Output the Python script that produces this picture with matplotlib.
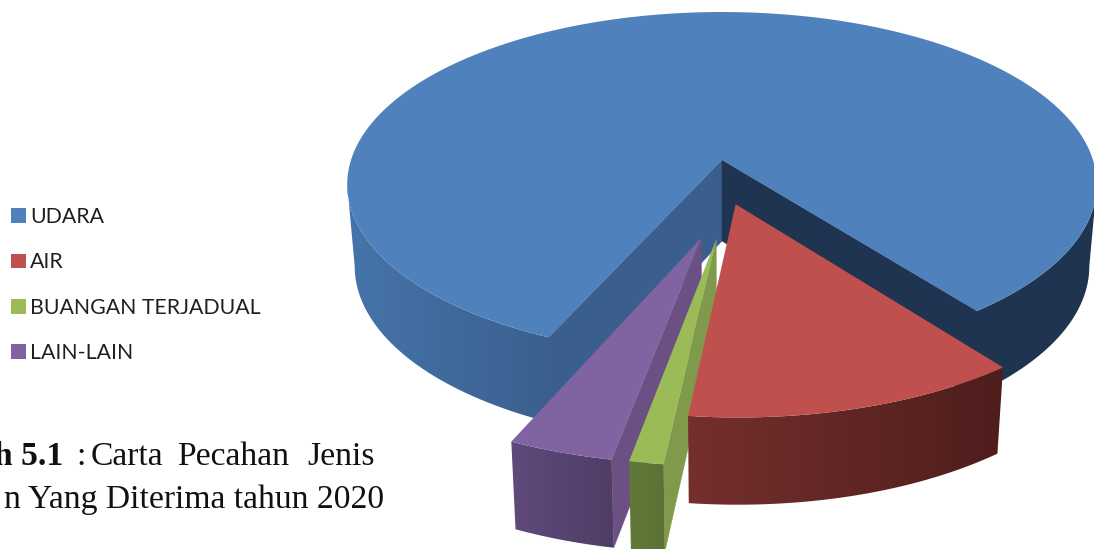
import numpy as np
import matplotlib
matplotlib.use("Agg")
import matplotlib.pyplot as plt
from matplotlib.colors import LinearSegmentedColormap
from matplotlib.patches import Patch, Polygon

# ---- data ----
CATEGORIES = ["UDARA", "AIR", "BUANGAN TERJADUAL", "LAIN-LAIN"]
VALUES = [82.9, 12.2, 1.2, 3.7]
START_ANGLE = -114.0      # first slice starts here and runs clockwise
EXPLODE_DIST = [0.0, 0.255, 0.44, 0.437]
EXPLODE_DIR = [0.0, -82.0, -91.9, -96.9]

# ---- style ----
TOP = ["#4f81bd", "#c0504d", "#9bbb59", "#8064a2"]
RIM = [("#4674aa", "#3a5f8e"), ("#752f2d", "#4e1e1c"), ("#62793a", "#5c7136"), ("#604a7c", "#4f3d66")]
CX, CY, A, B, K = 722.0, 160.0, 371.0, 169.0, 0.142
BOTTOM_SCALE, DEPTH, DEPTH_PERSP = 0.98, 81.0, 35.0
BLUE_WALL_L, BLUE_WALL_R, BLUE_RIM_R = "#3a5f8e", "#1f3450", "#1f3450"
SIDE_WALL = {2: "#7f9a4a", 3: "#6a5083"}

plt.rcParams["font.family"] = ["Lato", "DejaVu Sans"]
fig = plt.figure(figsize=(10.94, 5.49), dpi=100)
ax = fig.add_axes([0, 0, 1, 1])
ax.axis("off")


def top_xy(u, v):
    w = 1 + K * v
    return CX + A * u / w, CY - B * v / w


def bottom_xy(u, v):
    w = 1 + K * v
    x, y = top_xy(u, v)
    return CX + (x - CX) * BOTTOM_SCALE, y + DEPTH + (1 - w) * DEPTH_PERSP


def polar(t_deg, off, r=1.0):
    t = np.radians(t_deg)
    return off[0] + r * np.cos(t), off[1] + r * np.sin(t)


def rim(t1, t2, off, c1, c2, z, n=160):
    """Outer wall of a slice, shaded left to right with a smooth gradient."""
    ts = np.linspace(t1, t2, n)
    u, v = polar(ts, off)
    xt, yt = top_xy(u, v)
    xb, yb = bottom_xy(u, v)
    pts = np.vstack([np.column_stack([xt, yt]), np.column_stack([xb, yb])[::-1]])
    lo, hi = pts[:, 0].min(), pts[:, 0].max()
    cmap = LinearSegmentedColormap.from_list("rim", [c1, c2])
    im = ax.imshow(np.linspace(0, 1, 256).reshape(1, -1), cmap=cmap, vmin=0, vmax=1,
                   extent=(lo, hi, pts[:, 1].max(), pts[:, 1].min()), aspect="auto",
                   interpolation="bilinear", zorder=z)
    clip = Polygon(pts, closed=True, transform=ax.transData, fc="none", ec="none")
    ax.add_patch(clip)
    im.set_clip_path(clip)


def wall(t, off, color, z):
    e = polar(t, off)
    pts = [top_xy(*off), top_xy(*e), bottom_xy(*e), bottom_xy(*off)]
    ax.add_patch(Polygon(pts, closed=True, fc=color, ec=color, lw=0.3, zorder=z))


def top_face(t1, t2, off, color, z):
    ts = np.linspace(t1, t2, 240)
    u, v = polar(ts, off)
    x, y = top_xy(u, v)
    pts = [top_xy(*off)] + list(zip(x, y))
    ax.add_patch(Polygon(pts, closed=True, fc=color, ec="none", zorder=z))


# slice angles, clockwise
total = sum(VALUES)
edges = [START_ANGLE]
for val in VALUES:
    edges.append(edges[-1] - val / total * 360)
offs = [(d * np.cos(np.radians(a)), d * np.sin(np.radians(a))) for d, a in zip(EXPLODE_DIST, EXPLODE_DIR)]

# main slice: the outer wall is visible down to the silhouette angles
sil = np.degrees(np.arcsin(K))
t_start, t_end = edges[0], edges[1]
rim(-180 + sil, t_start + 0.5, offs[0], RIM[0][0], RIM[0][1], 1)
rim(t_end + 360 - 0.5, -sil, offs[0], BLUE_RIM_R, BLUE_RIM_R, 1)
wall(t_start, offs[0], BLUE_WALL_L, 2)
wall(t_end, offs[0], BLUE_WALL_R, 2)
top_face(t_start, t_end, offs[0], TOP[0], 3)

# exploded slices, far one first: LAIN-LAIN, BUANGAN, AIR
z = 4
for i in (3, 2, 1):
    t1, t2 = edges[i], edges[i + 1]
    if i in SIDE_WALL:
        wall(t1, offs[i], SIDE_WALL[i], z)
    rim(min(t1, t2), max(t1, t2), offs[i], RIM[i][0], RIM[i][1], z + 0.5)
    top_face(t1, t2, offs[i], TOP[i], z + 1)
    z += 2

ax.set_xlim(0, 1094)
ax.set_ylim(549, 0)

# legend
handles = [Patch(fc=c, ec="none") for c in TOP]
leg = ax.legend(handles, CATEGORIES, loc="upper left", bbox_to_anchor=(0.0100, 0.623),
                bbox_transform=fig.transFigure, frameon=False, fontsize=15.3, labelspacing=1.196,
                handlelength=0.7, handleheight=0.7, handletextpad=0.19, borderpad=0, borderaxespad=0)
for t in leg.get_texts():
    t.set_color("#1f1f1f")

# caption
SERIF = "Liberation Serif"
CAP = "#111111"
SIZE = 24.2
kw = dict(va="baseline", family=SERIF, fontsize=SIZE, color=CAP, zorder=9)
ax.text(63, 465, "h 5.1", ha="right", weight="bold", **kw)
for x, word in [(76, ":"), (91, "Carta"), (177, "Pecahan"), (307, "Jenis")]:
    ax.text(x, 465, word, ha="left", **kw)
ax.text(384, 508, "n Yang Diterima tahun 2020", ha="right", **kw)

fig.savefig("out.png", dpi=100, facecolor="white")
